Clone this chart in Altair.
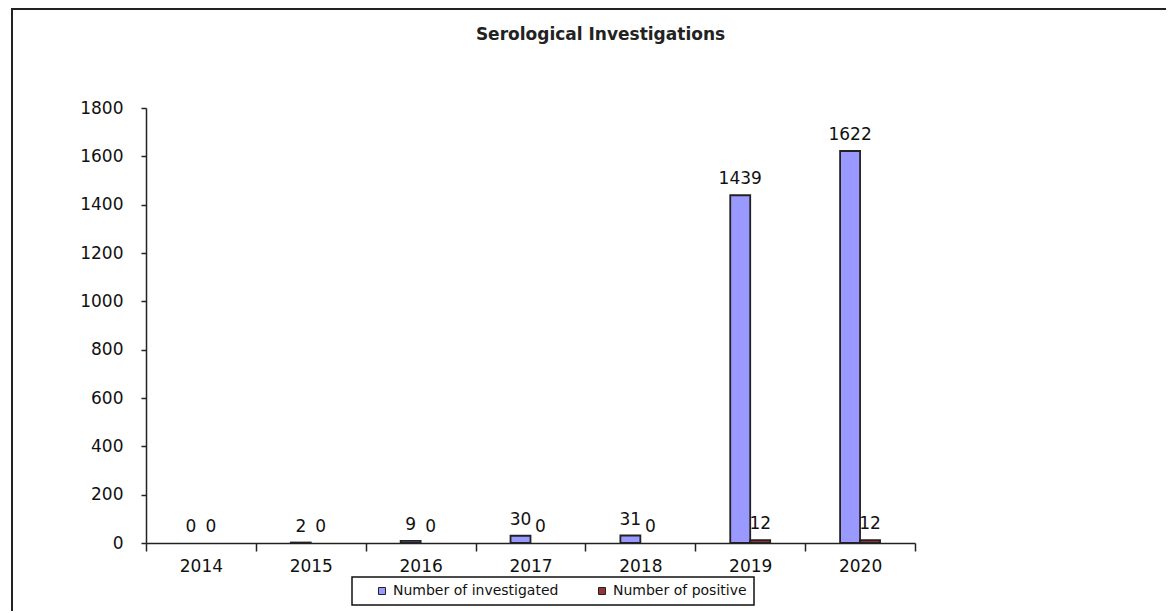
import altair as alt
import pandas as pd

years = ["2014", "2015", "2016", "2017", "2018", "2019", "2020"]
investigated = [0, 2, 9, 30, 31, 1439, 1622]
positive = [0, 0, 0, 0, 0, 12, 12]
series_names = ["Number of investigated", "Number of positive"]
series_colors = ["#9999FF", "#993333"]
y_ticks = list(range(0, 1801, 200))

rows = []
for i, yr in enumerate(years):
    rows.append({"year": yr, "series": series_names[0], "value": investigated[i]})
    rows.append({"year": yr, "series": series_names[1], "value": positive[i]})
df = pd.DataFrame(rows)

FONT = "DejaVu Sans"

x_enc = alt.X(
    "year:N",
    sort=years,
    scale=alt.Scale(paddingInner=0, paddingOuter=0),
    axis=alt.Axis(
        title=None, labelAngle=0, tickBand="extent", tickSize=8,
        labelPadding=7, labelFontSize=17, labelFont=FONT, labelColor="#111",
        domainColor="#222", tickColor="#222", domainWidth=1.5, tickWidth=1.5,
    ),
)
xoff_enc = alt.XOffset(
    "series:N",
    scale=alt.Scale(domain=["_a"] + series_names + ["_b"], paddingInner=0, paddingOuter=0.75),
)
y_enc = alt.Y(
    "value:Q",
    scale=alt.Scale(domain=[0, 1800], nice=False),
    axis=alt.Axis(
        title=None, values=y_ticks, format="d", grid=False, tickSize=5, labelPadding=18,
        labelFontSize=17, labelFont=FONT, labelColor="#111",
        domainColor="#222", tickColor="#222", domainWidth=1.5, tickWidth=1.5,
    ),
)
color_enc = alt.Color(
    "series:N", sort=series_names,
    scale=alt.Scale(domain=series_names, range=series_colors),
    legend=alt.Legend(
        title=None, orient="none", legendX=206, legendY=469, direction="horizontal",
        symbolType="square", symbolSize=49, symbolStrokeColor="#222", symbolStrokeWidth=1,
        symbolOffset=16, labelFontSize=14, labelFont=FONT, labelColor="#111",
        labelOffset=4, labelLimit=400, columnPadding=20, padding=7,
        strokeColor="#111", fillColor="white",
    ),
)

bars = alt.Chart(df).mark_bar(stroke="#222", strokeWidth=1.8).encode(
    x=x_enc, xOffset=xoff_enc, y=y_enc, color=color_enc,
    strokeOpacity=alt.condition("datum.value > 0", alt.value(1), alt.value(0)),
)
labels = alt.Chart(df).mark_text(
    baseline="alphabetic", dy=-11, fontSize=17, font=FONT, color="#111"
).encode(x=x_enc, xOffset=xoff_enc, y=y_enc, text="value:Q")

frame = alt.Chart(pd.DataFrame({"a": [0]})).mark_rect(
    filled=False, stroke="#222", strokeWidth=2
).encode(x=alt.value(-134), x2=alt.value(1040), y=alt.value(-99), y2=alt.value(530))

chart = alt.layer(frame, bars, labels).properties(
    width=769, height=435,
    title=alt.TitleParams(
        "Serological Investigations", fontSize=17, font=FONT,
        fontWeight="bold", color="#222", dx=70, offset=-36,
    ),
    padding={"left": 138, "top": 100, "right": 251, "bottom": 68},
    autosize="none",
).configure_view(stroke=None).configure_legend(strokeWidth=1.5)

chart.save("out.html", embed_options={"renderer": "svg", "actions": False})
